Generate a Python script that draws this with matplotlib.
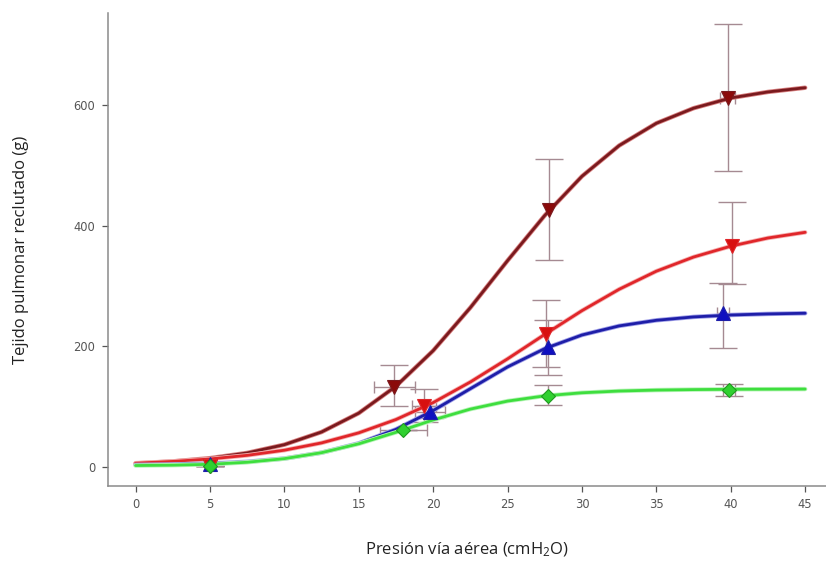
import matplotlib
matplotlib.use("Agg")
import matplotlib.pyplot as plt
import matplotlib.patheffects as pe

plt.rcParams['font.family'] = ['Open Sans', 'DejaVu Sans']
plt.rcParams['mathtext.default'] = 'regular'

# Fitted curves
curve_x = [0, 2.5, 5, 7.5, 10, 12.5, 15, 17.5, 20, 22.5, 25, 27.5, 30, 32.5, 35, 37.5, 40, 42.5, 45]
curve_brown = [5.4, 8.8, 14.2, 22.9, 36.6, 57.6, 88.9, 133.6, 192.6, 264, 342, 417, 482, 533, 570, 595, 612, 622, 629]
curve_red = [5.9, 8.8, 12.9, 18.9, 27.4, 39.5, 56.2, 78.3, 106.4, 140.6, 179, 219.6, 259, 294.5, 324.5, 348, 366, 379.6, 389]
curve_blue = [3.0, 3.8, 5.2, 8.2, 13.6, 23.3, 38.8, 62, 93.2, 129.5, 165.6, 196, 218.6, 233.7, 243, 248.6, 251.8, 253.6, 254.7]
curve_green = [2.0, 2.6, 4.0, 7.4, 13.4, 23.3, 38, 57.1, 77.6, 95.6, 108.9, 117.6, 122.7, 125.6, 127.2, 128, 128.5, 128.7, 128.9]

# Measured points
brown_x = [5, 17.4, 27.8, 39.8]
brown_y = [2, 132, 426, 612]
brown_ylo = [0, 32, 83, 122]
brown_yhi = [0, 37, 84, 123]
brown_xerr = [0, 1.35, 0, 0.5]

red_x = [5, 19.4, 27.6, 40.1]
red_y = [2, 100, 221, 367]
red_ylo = [0, 25, 55, 64]
red_yhi = [0, 29, 55, 72]
red_xerr = [0, 0.8, 0, 0]

blue_x = [5, 19.8, 27.7, 39.5]
blue_y = [4, 91, 198, 255]
blue_ylo = [0, 10, 45, 58]
blue_yhi = [0, 10, 45, 50]
blue_xerr = [0, 1.0, 0, 0.4]

green_x = [5, 18.0, 27.7, 39.9]
green_y = [1, 61, 118, 128]
green_ylo = [0, 0, 16, 10]
green_yhi = [0, 0, 18, 10]
green_xerr = [0, 1.6, 0, 0.4]

x_ticks = [0, 5, 10, 15, 20, 25, 30, 35, 40, 45]
y_ticks = [0, 200, 400, 600]

fig = plt.figure(figsize=(8.26, 5.68), dpi=100)
ax = fig.add_axes([108/826, 82/568, (826-108)/826, (486-13)/568])

series = [
    (curve_brown, brown_x, brown_y, brown_ylo, brown_yhi, brown_xerr, '#7a1a1e', '#d88080', '#8b0a0a', 'v'),
    (curve_red, red_x, red_y, red_ylo, red_yhi, red_xerr, '#e0262a', '#f5b0b0', '#d81010', 'v'),
    (curve_blue, blue_x, blue_y, blue_ylo, blue_yhi, blue_xerr, '#1e1ea8', '#a0a0e8', '#1010c0', '^'),
    (curve_green, green_x, green_y, green_ylo, green_yhi, green_xerr, '#3ede3e', '#b8f4b8', '#30d030', 'D'),
]

errcol = '#a58a92'
for cy, px, py, ylo, yhi, xe, lc, halo, mc, mk in series:
    ax.errorbar(px, py, yerr=[ylo, yhi], fmt='none', ecolor=errcol,
                elinewidth=1.0, capsize=10, capthick=1.0, zorder=2)
    ax.errorbar(px, py, xerr=xe, fmt='none', ecolor=errcol,
                elinewidth=1.0, capsize=4, capthick=1.0, zorder=2)

for cy, px, py, ylo, yhi, xe, lc, halo, mc, mk in series:
    ax.plot(curve_x, cy, color=lc, lw=2.0, zorder=3, solid_capstyle='round',
            path_effects=[pe.Stroke(linewidth=3.2, foreground=halo), pe.Normal()])

for cy, px, py, ylo, yhi, xe, lc, halo, mc, mk in series:
    ms = 7.5 if mk == 'D' else 9.5
    ax.plot(px, py, linestyle='none', marker=mk, markersize=ms, color=mc,
            markeredgecolor=lc if mk != 'D' else '#1f9a1f', markeredgewidth=0.8, zorder=4)

ax.set_xlim(-1.85, 46.4)
ax.set_ylim(-32, 753)
ax.set_xticks(x_ticks)
ax.set_yticks(y_ticks)
ax.set_xticklabels([str(t) for t in x_ticks], family='DejaVu Sans')
ax.set_yticklabels([str(t) for t in y_ticks], family='DejaVu Sans')
ax.tick_params(axis='both', labelsize=8.3, colors='#555555', length=4, width=0.9,
               direction='out', pad=5)
for s in ['top', 'right']:
    ax.spines[s].set_visible(False)
for s in ['left', 'bottom']:
    ax.spines[s].set_color('#8a8a8a')
    ax.spines[s].set_linewidth(1.1)

ax.set_xlabel('Presión vía aérea (cmH$_2$O)', fontsize=12, color='#222222', labelpad=21)
ax.set_ylabel('Tejido pulmonar reclutado (g)', fontsize=12, color='#222222', labelpad=32)

fig.savefig('out.png', dpi=100)
